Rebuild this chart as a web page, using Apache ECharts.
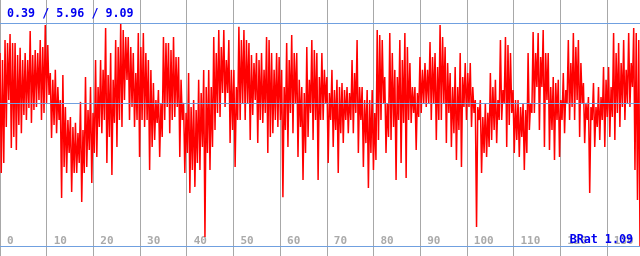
<!DOCTYPE html>
<html>
<head>
<meta charset="utf-8">
<script src="https://cdn.jsdelivr.net/npm/echarts@6/dist/echarts.min.js"></script>
<style>
html,body{margin:0;padding:0;background:#fff}
#chart{width:640px;height:256px}
</style>
</head>
<body>
<div id="chart"></div>
<script>
// min / avg / max shown in the header and as the blue lines
const stats = [0.39, 5.96, 9.09];
const bratValue = 1.09;
const xMax = 137.1;
const xInterval = 10;

// samples, left to right
const part0 = [7.93,3.24,7.66,3.63, 8.44,5.04,8.32,6.09, 8.67,4.22,8.32,4.65, 8.32,4.14,7.85,5.12,
  8.13,4.80,7.66,5.51, 7.93,5.31,7.66,5.78, 8.79,5.20,7.85,5.70, 8.05,5.82,7.93,6.09,
  8.44,5.31,8.16,5.59, 9.02,5.98,8.24,6.29, 7.15,4.61,6.88,5.12, 7.27,4.80,6.60,5.31,
  6.09,2.27,7.07,3.48, 5.82,3.24,5.31,4.02, 5.43,2.50,5.04,3.24, 5.20,3.24,4.80,3.63,
  6.02,2.11,4.92,3.24, 6.99,3.48,5.70,4.14, 6.60,2.85,5.59,4.02, 7.66,3.87,6.60,5.04,
  7.66,4.80,7.27,5.31, 8.91,3.63,7.07,4.65, 7.93,3.16,6.88,5.20, 8.44,4.26,8.16,5.31,
  9.09,5.04,8.83,6.09,8.55,6.88];
const part1 = [8.55,5.31,8.16,5.82, 7.93,5.04,7.15,5.31, 8.71,3.87,8.16,5.31, 8.71,5.04,7.93,5.31,
  7.66,3.36,7.27,4.26, 6.76,4.53,6.09,5.20, 6.48,3.87,5.98,4.65, 8.55,5.31,8.32,5.82,
  8.32,4.80,8.05,5.31, 8.55,5.43,7.77,5.82, 7.77,3.87,6.88,5.31, 5.98,3.24,5.59,4.02,
  7.15,2.46,5.82,3.36, 6.09,2.70,5.70,3.63, 6.88,3.36,6.37,4.26, 7.27,0.74,6.60,4.02,
  7.27,3.36,6.60,4.26, 8.55,4.92,7.93,5.59, 8.83,5.43,8.16,6.37, 8.83,5.82,7.66,6.37,
  8.44,4.41,7.27,4.92, 7.27,3.48,6.60,5.31, 8.95,5.31,8.44,5.98, 8.83,5.31,8.44,5.98,
  8.32,4.53,7.85,5.51,7.54,6.09];
const part2 = [7.93,4.41,7.66,5.31, 7.93,5.20,7.27,5.59, 8.55,4.02,8.44,4.65, 7.93,4.80,7.27,5.31,
  7.93,5.04,7.77,5.31, 7.27,2.30,6.60,4.92, 8.32,4.26,7.66,5.59, 8.63,4.80,7.93,5.98,
  7.93,3.87,6.88,5.04, 6.60,2.97,6.37,4.02, 8.16,4.65,6.88,5.59, 8.44,4.53,8.05,5.31,
  7.93,2.97,6.99,5.31, 7.93,5.31,7.27,5.98, 6.99,3.63,6.37,5.31, 7.27,4.26,6.48,4.92,
  6.88,3.24,6.60,4.80, 6.76,4.41,6.48,5.31, 6.60,4.80,6.37,5.31, 7.66,4.80,7.15,5.59,
  8.44,4.02,6.60,5.31, 6.60,3.48,6.09,4.41, 6.48,2.66,6.09,4.02, 6.48,3.36,5.59,3.75,
  8.83,4.53,8.63,5.31,8.44,5.98];
const part3 = [6.99,4.02,5.98,4.65, 8.71,4.53,7.93,5.04, 7.27,2.97,6.99,5.31, 8.44,3.63,7.66,5.20,
  8.71,3.05,8.16,5.31, 7.54,5.20,6.60,5.59, 6.60,4.14,6.37,5.43, 7.77,5.59,7.27,5.98,
  7.54,5.82,7.27,5.98, 8.36,5.31,7.77,5.98, 7.93,4.53,7.38,5.31, 9.02,5.31,8.55,5.98,
  8.16,4.41,7.54,5.59, 7.15,4.26,6.60,4.80, 7.38,3.75,6.60,4.92, 7.93,3.48,6.99,5.82,
  7.54,5.31,7.15,5.82, 7.54,5.04,6.60,5.59, 6.09,1.13,5.82,5.31, 6.09,3.24,5.43,4.02,
  5.98,3.87,5.59,4.26, 7.15,4.53,6.60,4.92, 6.88,4.41,6.09,5.31, 8.44,5.31,6.48,5.98,
  8.55,4.26,8.24,5.12,7.93,5.59];
const part4 = [6.48,4.02,6.09,4.53, 6.09,3.87,5.82,4.65, 5.98,3.36,5.70,4.02, 7.93,4.92,5.98,5.59,
  8.75,5.59,7.93,6.60, 8.71,4.92,7.77,6.60, 8.83,4.26,7.93,6.09, 7.93,4.14,6.60,4.92,
  6.99,3.75,6.76,5.31, 6.88,3.87,6.09,5.31, 7.15,4.80,6.48,5.98, 8.44,5.31,7.54,5.82,
  8.71,5.31,8.16,6.09, 8.44,4.65,7.54,5.98, 6.76,4.41,5.98,5.31, 6.21,2.46,5.82,5.31,
  6.76,4.26,5.82,5.04, 6.60,4.53,6.21,5.31, 7.38,4.26,6.88,5.43, 7.38,4.65,6.60,5.43,
  8.71,4.53,7.93,5.59, 8.32,5.04,7.54,5.82, 8.44,5.31,7.27,5.98, 8.71,5.82,7.54,6.60,
  8.91,3.36,8.71,2.19,8.44,0.39];

const values = [].concat(part0, part1, part2, part3, part4);
const step = xMax / (values.length - 1);
const seriesData = values.map((v, i) => [i * step, v]);

const chart = echarts.init(document.getElementById('chart'));
chart.setOption({
  animation: false,
  backgroundColor: '#fff',
  grid: { left: 0, right: 0, top: 0, bottom: 0 },
  xAxis: {
    type: 'value',
    min: 0,
    max: xMax,
    interval: xInterval,
    axisLine: { show: false },
    axisTick: { show: false },
    splitLine: { show: true, lineStyle: { color: '#a8a8a8', width: 1 } },
    axisLabel: {
      inside: true,
      margin: 9,
      align: 'left',
      padding: [0, 0, 0, 7],
      color: '#aaaaaa',
      fontFamily: 'DejaVu Sans Mono',
      fontWeight: 'bold',
      fontSize: 11,
      showMaxLabel: false
    }
  },
  yAxis: { type: 'value', min: 0, max: 10, show: false },
  series: [{
    type: 'line',
    data: seriesData,
    showSymbol: false,
    lineStyle: { color: '#ff0000', width: 1.5 },
    markLine: {
      silent: true,
      symbol: ['none', 'none'],
      label: { show: false },
      lineStyle: { color: '#70a0e0', type: 'solid', width: 1 },
      data: stats.map(v => ({ yAxis: v }))
    }
  }],
  graphic: [
    {
      type: 'text', left: 7, top: 8, z: 100,
      style: {
        text: stats.map(v => v.toFixed(2)).join(' / '),
        fill: '#0000f0',
        font: 'bold 11.7px "DejaVu Sans Mono"'
      }
    },
    {
      type: 'text', right: 7, top: 234, z: 100,
      style: {
        text: 'BRat ' + bratValue.toFixed(2),
        fill: '#0000f0',
        font: 'bold 11.7px "DejaVu Sans Mono"'
      }
    }
  ]
});
</script>
</body>
</html>
